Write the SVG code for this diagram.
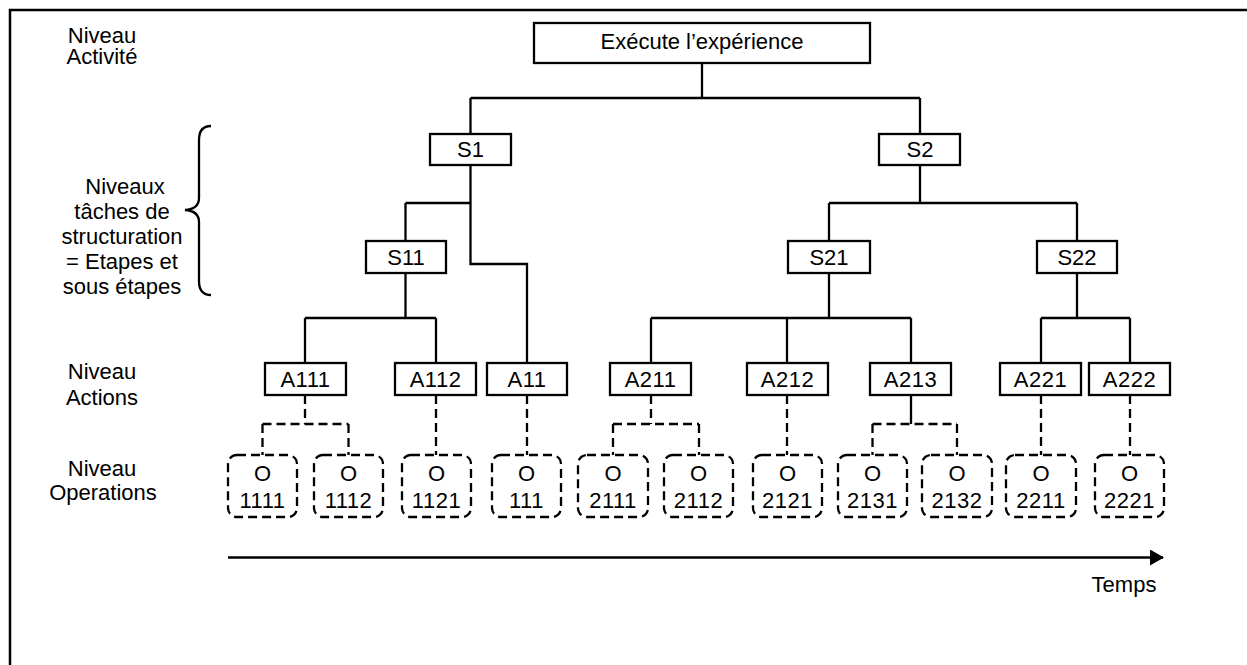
<svg xmlns="http://www.w3.org/2000/svg" width="1247" height="665" viewBox="0 0 1247 665">
  <defs>
    <style>
      text { font-family: "Liberation Sans", Arial, sans-serif; font-size: 22px; fill: #000; text-anchor: middle; }
      .num { letter-spacing: 0.5px; }
      .box { fill: #fff; stroke: #000; stroke-width: 2.3; }
      .op { fill: #fff; stroke: #000; stroke-width: 2.3; stroke-dasharray: 9 5; }
      .link { fill: none; stroke: #000; stroke-width: 2.3; }
      .dash { fill: none; stroke: #000; stroke-width: 2.3; stroke-dasharray: 9 5; }
      .frame { fill: none; stroke: #000; stroke-width: 2.5; }
    </style>
    <marker id="arrowhead" markerWidth="14" markerHeight="16" refX="13" refY="8" orient="auto" markerUnits="userSpaceOnUse">
      <path d="M0,0 L14,8 L0,16 Z" fill="#000"/>
    </marker>
  </defs>

  <rect width="1247" height="665" fill="#fff"/>
  <!-- outer frame (top and left edges) -->
  <path class="frame" d="M10,667 L10,10 L1249,10"/>

  <!-- level labels -->
  <g id="labels">
    <text x="102" y="43">Niveau</text>
    <text x="102" y="64">Activité</text>
    <text x="125" y="194">Niveaux</text>
    <text x="122" y="219">tâches de</text>
    <text x="122" y="244">structuration</text>
    <text x="122" y="269">= Etapes et</text>
    <text x="122" y="294">sous étapes</text>
    <text x="102" y="379">Niveau</text>
    <text x="102" y="405">Actions</text>
    <text x="102" y="476">Niveau</text>
    <text x="103" y="500">Operations</text>
    <text x="1124" y="592">Temps</text>
  </g>

  <!-- brace grouping the structuring levels -->
  <path class="link" d="M211,126 Q199,126 199,140 L199,198 Q199,209 185,210 Q199,211 199,222 L199,281 Q199,295 211,295"/>

  <!-- connectors -->
  <g id="connectors">
    <path class="link" d="M702,63 V98 M470.5,98 H920 M470.5,98 V134 M920,98 V134"/>
    <path class="link" d="M470.5,165 V264 H527 V363 M405.5,203 H470.5 M405.5,203 V241"/>
    <path class="link" d="M920,165 V203 M829,203 H1077 M829,203 V241 M1077,203 V241"/>
    <path class="link" d="M405.5,273 V318 M305,318 H436 M305,318 V363 M436,318 V363"/>
    <path class="link" d="M829,273 V318 M651,318 H911 M651,318 V363 M787,318 V363 M911,318 V363"/>
    <path class="link" d="M1077,273 V318 M1041,318 H1130 M1041,318 V363 M1130,318 V363"/>
    <!-- action to operation links -->
    <path class="dash" d="M305,395 V424 M262.5,424 H348.5 M262.5,424 V455 M348.5,424 V455"/>
    <path class="dash" d="M436,395 V455"/>
    <path class="dash" d="M527,395 V455"/>
    <path class="dash" d="M651,395 V424 M613,424 H699 M613,424 V455 M699,424 V455"/>
    <path class="dash" d="M787,395 V455"/>
    <path class="link" d="M911,395 V424"/>
    <path class="dash" d="M872.5,424 H957 M872.5,424 V455 M957,424 V455"/>
    <path class="dash" d="M1041,395 V455"/>
    <path class="dash" d="M1130,395 V455"/>
    <!-- time axis -->
    <path class="link" d="M228,557.5 H1163" marker-end="url(#arrowhead)"/>
  </g>

  <!-- activity -->
  <g id="root"><rect class="box" x="534" y="23" width="336" height="40"/><text x="702" y="49">Exécute l’expérience</text></g>

  <!-- structuring steps -->
  <g id="S1"><rect class="box" x="430" y="134" width="81" height="31"/><text x="470.5" y="157">S1</text></g>
  <g id="S2"><rect class="box" x="879" y="134" width="81" height="31"/><text x="920" y="157">S2</text></g>
  <g id="S11"><rect class="box" x="366" y="241" width="80" height="32"/><text x="406" y="265">S11</text></g>
  <g id="S21"><rect class="box" x="788" y="241" width="82" height="32"/><text x="829" y="265">S21</text></g>
  <g id="S22"><rect class="box" x="1037" y="241" width="80" height="32"/><text x="1077" y="265">S22</text></g>

  <!-- actions -->
  <g id="A111"><rect class="box" x="265" y="363" width="81" height="32"/><text class="num" x="305.5" y="387">A111</text></g>
  <g id="A112"><rect class="box" x="395" y="363" width="81" height="32"/><text class="num" x="435.5" y="387">A112</text></g>
  <g id="A11"><rect class="box" x="487" y="363" width="80" height="32"/><text class="num" x="527" y="387">A11</text></g>
  <g id="A211"><rect class="box" x="610" y="363" width="81" height="32"/><text class="num" x="650.5" y="387">A211</text></g>
  <g id="A212"><rect class="box" x="747" y="363" width="81" height="32"/><text class="num" x="787.5" y="387">A212</text></g>
  <g id="A213"><rect class="box" x="870" y="363" width="81" height="32"/><text class="num" x="910.5" y="387">A213</text></g>
  <g id="A221"><rect class="box" x="1000" y="363" width="81" height="32"/><text class="num" x="1040.5" y="387">A221</text></g>
  <g id="A222"><rect class="box" x="1089" y="363" width="81" height="32"/><text class="num" x="1129.5" y="387">A222</text></g>

  <!-- operations -->
  <g id="O1111"><rect class="op" x="228" y="455" width="69" height="62" rx="9"/><text x="262.5" y="481">O</text><text class="num" x="262.5" y="508">1111</text></g>
  <g id="O1112"><rect class="op" x="314" y="455" width="69" height="62" rx="9"/><text x="348.5" y="481">O</text><text class="num" x="348.5" y="508">1112</text></g>
  <g id="O1121"><rect class="op" x="402" y="455" width="69" height="62" rx="9"/><text x="436.5" y="481">O</text><text class="num" x="436.5" y="508">1121</text></g>
  <g id="O111"><rect class="op" x="492" y="455" width="69" height="62" rx="9"/><text x="526.5" y="481">O</text><text class="num" x="526.5" y="508">111</text></g>
  <g id="O2111"><rect class="op" x="578" y="455" width="70" height="62" rx="9"/><text x="613" y="481">O</text><text class="num" x="613" y="508">2111</text></g>
  <g id="O2112"><rect class="op" x="664" y="455" width="69" height="62" rx="9"/><text x="698.5" y="481">O</text><text class="num" x="698.5" y="508">2112</text></g>
  <g id="O2121"><rect class="op" x="753" y="455" width="69" height="62" rx="9"/><text x="787.5" y="481">O</text><text class="num" x="787.5" y="508">2121</text></g>
  <g id="O2131"><rect class="op" x="838" y="455" width="69" height="62" rx="9"/><text x="872.5" y="481">O</text><text class="num" x="872.5" y="508">2131</text></g>
  <g id="O2132"><rect class="op" x="922" y="455" width="70" height="62" rx="9"/><text x="957" y="481">O</text><text class="num" x="957" y="508">2132</text></g>
  <g id="O2211"><rect class="op" x="1006" y="455" width="70" height="62" rx="9"/><text x="1041" y="481">O</text><text class="num" x="1041" y="508">2211</text></g>
  <g id="O2221"><rect class="op" x="1095" y="455" width="69" height="62" rx="9"/><text x="1129.5" y="481">O</text><text class="num" x="1129.5" y="508">2221</text></g>
</svg>
